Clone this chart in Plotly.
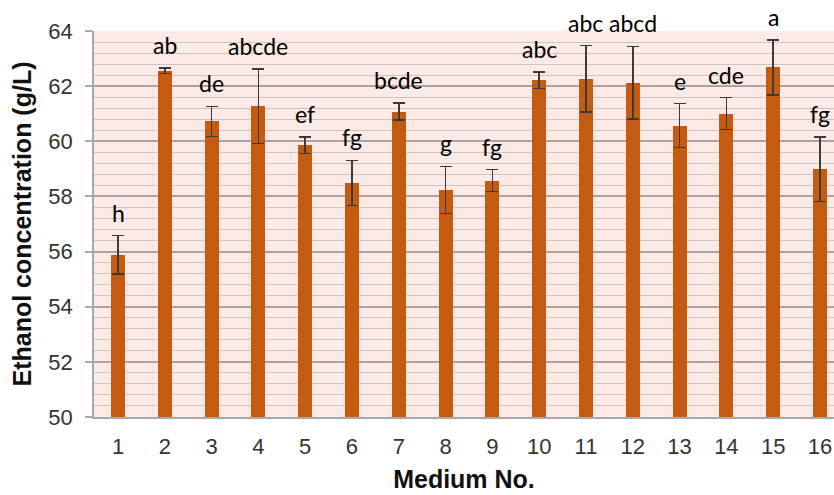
import plotly.graph_objects as go

# Ethanol concentration per medium, with standard deviations and significance letters
media = list(range(1, 17))
ethanol = [55.88, 62.55, 60.72, 61.27, 59.85, 58.49, 61.08, 58.24,
           58.57, 62.22, 62.27, 62.12, 60.57, 61.00, 62.68, 58.98]
std_dev = [0.70, 0.10, 0.55, 1.35, 0.30, 0.82, 0.31, 0.85,
           0.40, 0.30, 1.20, 1.32, 0.80, 0.58, 1.00, 1.17]
letters = ["h", "ab", "de", "abcde", "ef", "fg", "bcde", "g",
           "fg", "abc", "abc", "abcd", "e", "cde", "a", "fg"]
y_ticks = [50, 52, 54, 56, 58, 60, 62, 64]

bar_color = "#C55A11"
tick_font = dict(family="Liberation Sans, Arial, sans-serif", size=22, color="#333333")

fig = go.Figure()
fig.add_trace(go.Bar(
    x=media,
    y=[v - 50 for v in ethanol],
    base=50,
    width=0.3,
    marker=dict(color=bar_color, line=dict(width=0)),
    error_y=dict(type="data", array=std_dev, visible=True,
                 color="#3a3a3a", thickness=1.5, width=6),
    hoverinfo="skip",
))

# significance letters above each error bar
for m, v, s, t in zip(media, ethanol, std_dev, letters):
    fig.add_annotation(
        x=m, y=v + s, text=t, showarrow=False,
        xanchor="center", yanchor="bottom", yshift=7,
        font=dict(family="Lato, Open Sans, sans-serif", size=23, color="#000000"),
    )

fig.update_layout(
    width=834, height=495,
    margin=dict(l=94, r=0, t=31, b=78),
    paper_bgcolor="white",
    plot_bgcolor="#FCEAE6",
    showlegend=False,
    bargap=0,
)

fig.update_xaxes(
    range=[0.487, 16.3],
    tickmode="array", tickvals=media, ticktext=[str(m) for m in media],
    tickfont=tick_font,
    ticks="", ticklabelstandoff=9,
    showgrid=False, zeroline=False,
    showline=True, linecolor="#A9A9A9", linewidth=1.5,
    title=dict(text="<b>Medium No.</b>",
               font=dict(family="Liberation Sans, Arial, sans-serif", size=25, color="#111111"),
               standoff=12),
    fixedrange=True,
)

fig.update_yaxes(
    range=[50, 64],
    tickmode="array", tickvals=y_ticks,
    tickfont=tick_font,
    ticks="outside", ticklen=7, tickcolor="#A9A9A9", tickwidth=1.5,
    ticklabelstandoff=8,
    showgrid=True, gridcolor="#ABA3A2", gridwidth=1.5,
    minor=dict(dtick=0.4, tick0=50, showgrid=True, gridcolor="#CCC4C2", gridwidth=1, ticks=""),
    zeroline=False,
    showline=True, linecolor="#A9A9A9", linewidth=1.5,
    title=dict(text="<b>Ethanol concentration (g/L)</b>",
               font=dict(family="Liberation Sans, Arial, sans-serif", size=25, color="#111111"),
               standoff=10),
    fixedrange=True,
)

fig.write_html("out.html")
